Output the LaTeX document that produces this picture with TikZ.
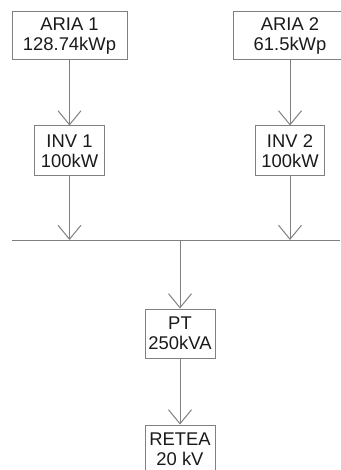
\documentclass[tikz,border=0pt]{standalone}
\usepackage{fontspec}
\setmainfont{Liberation Sans}
\usetikzlibrary{arrows.meta}
\definecolor{linegray}{HTML}{808080}
\definecolor{txt}{HTML}{1A1A1A}
\tikzset{
  box/.style={draw=linegray, line width=1pt, fill=white, align=center, inner sep=0pt,
    text=txt, font=\fontsize{18.4}{20}\selectfont},
  conn/.style={draw=linegray, line width=1pt, -{Straight Barb[length=14pt,width=23pt,line width=1pt]}},
  plain/.style={draw=linegray, line width=1pt}
}
\begin{document}
\begin{tikzpicture}[x=1pt,y=-1pt]
\useasboundingbox (0,0) rectangle (340,470);
\node[box, minimum width=115pt, minimum height=48pt] (aria1) at (69.5,36) {ARIA 1\\128.74kWp};
\node[box, minimum width=114pt, minimum height=48pt] (aria2) at (290,36) {ARIA 2\\61.5kWp};
\node[box, minimum width=70pt, minimum height=50pt] (inv1) at (69.5,151) {INV 1\\100kW};
\node[box, minimum width=69pt, minimum height=50pt] (inv2) at (290,151) {INV 2\\100kW};
\node[box, minimum width=70pt, minimum height=49pt] (pt) at (180,333.5) {PT\\250kVA};
\node[box, minimum width=70pt, minimum height=49pt] (retea) at (180,449.5) {RETEA\\20 kV};
\coordinate (busL) at (11.7,240);
\coordinate (busR) at (340,240);
\coordinate (bus1) at (69.5,240);
\coordinate (bus2) at (290,240);
\coordinate (busC) at (180,240);
\draw[plain] (busL) -- (busR);
\draw[conn] (aria1.south) -- (inv1.north);
\draw[conn] (aria2.south) -- (inv2.north);
\draw[conn] (inv1.south) -- (bus1);
\draw[conn] (inv2.south) -- (bus2);
\draw[conn] (busC) -- (pt.north);
\draw[conn] (pt.south) -- (retea.north);
\end{tikzpicture}
\end{document}
